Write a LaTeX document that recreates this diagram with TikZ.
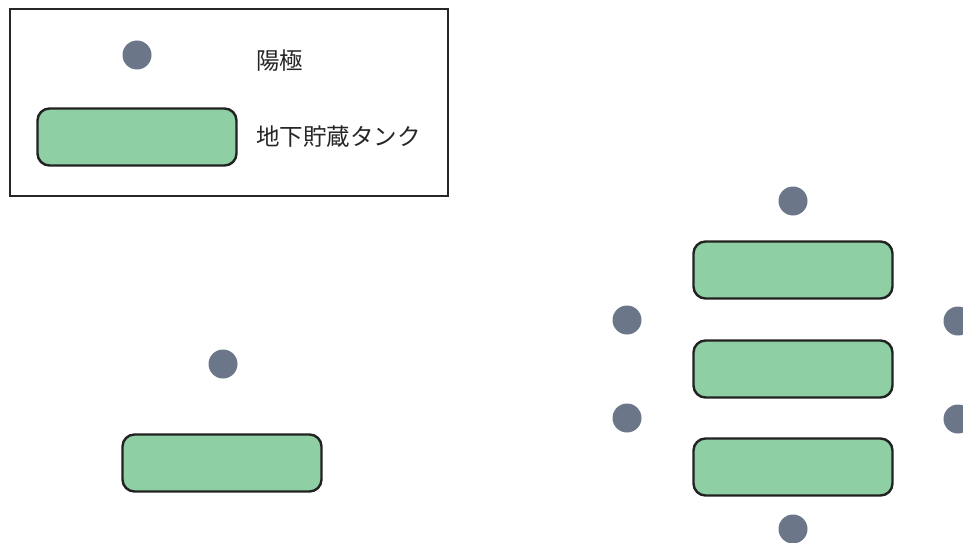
\documentclass[tikz,border=0pt]{standalone}
\usepackage{fontspec}
\newfontfamily\cjk{Noto Sans CJK JP}
\definecolor{anode}{HTML}{6B7688}
\definecolor{tankfill}{HTML}{8ECFA4}
\definecolor{edge}{HTML}{222222}
\begin{document}
\begin{tikzpicture}[x=1pt,y=-1pt,
  anodedot/.style={circle,fill=anode,draw=none,minimum size=29pt,inner sep=0pt},
  tank/.style={rectangle,rounded corners=12pt,fill=tankfill,draw=edge,line width=2.4pt,minimum width=199pt,minimum height=57pt,inner sep=0pt},
  lbl/.style={anchor=west,font=\cjk\fontsize{23.5}{28}\selectfont,inner sep=0pt,text=black!85}]
\useasboundingbox (0,0) rectangle (963,543);
\node[draw=black!85,line width=2.4pt,minimum width=438pt,minimum height=187pt,inner sep=0pt] (legend) at (229,102.5) {};
\node[anodedot] (la) at (137,55) {};
\node[tank] (lt) at (137,137) {};
\node[lbl] (lat) at (256,61) {陽極};
\node[lbl] (ltt) at (256,137) {地下貯蔵タンク};
\node[anodedot] (a1) at (223,364) {};
\node[tank] (t1) at (222,463) {};
\node[anodedot] (b1) at (793,201) {};
\node[tank] (t2) at (793,270) {};
\node[tank] (t3) at (793,369) {};
\node[tank] (t4) at (793,467) {};
\node[anodedot] (b2) at (627,320) {};
\node[anodedot] (b3) at (627,418) {};
\node[anodedot] (b4) at (958,321) {};
\node[anodedot] (b5) at (958,419) {};
\node[anodedot] (b6) at (793,529) {};
\end{tikzpicture}
\end{document}
